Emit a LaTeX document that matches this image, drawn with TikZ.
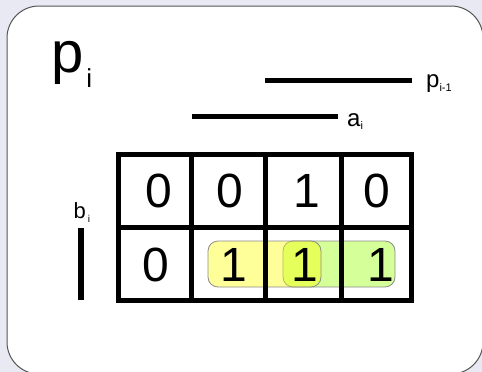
\documentclass[tikz,border=0pt]{standalone}
\usepackage{fontspec}
\setmainfont{Liberation Sans}
\usetikzlibrary{positioning}
\definecolor{bgpanel}{RGB}{233, 233, 243}
\definecolor{framegray}{RGB}{85, 85, 85}
\definecolor{hlyellow}{RGB}{255, 255, 0}
\definecolor{hlgreen}{RGB}{150, 255, 0}
\definecolor{hledge}{RGB}{140, 140, 140}

\begin{document}
\begin{tikzpicture}[x=1pt, y=-1pt,
  digit/.style={font=\fontsize{48}{48}\selectfont, anchor=base, inner sep=0pt},
  varlabel/.style={font=\fontsize{24}{24}\selectfont, anchor=base west, inner sep=0pt},
  bar/.style={line width=5pt},
  group/.style={draw=hledge, line width=0.8pt, rounded corners=10pt, fill opacity=0.4}]

  % Panel
  \fill[bgpanel] (0, 0) rectangle (482, 372);
  \useasboundingbox (0, 0) rectangle (482, 372);
  \draw[framegray, fill=white, line width=1pt, rounded corners=32pt] (7, 6) rectangle (483, 374);

  % Title
  \node[anchor=base west, inner sep=0pt, font=\fontsize{58}{58}\selectfont] (title) at (51, 72)
    {p\kern3pt\raisebox{-15pt}{\fontsize{26}{26}\selectfont i}};

  % Variable bars
  \coordinate (pstart) at (265, 80.5);
  \coordinate (pend) at (412, 80.5);
  \coordinate (astart) at (192, 116.5);
  \coordinate (aend) at (338, 116.5);
  \coordinate (bstart) at (81, 228);
  \coordinate (bend) at (81, 300);
  \draw[bar] (pstart) -- (pend);
  \draw[bar] (astart) -- (aend);
  \draw[line width=5.5pt] (bstart) -- (bend);

  \node[varlabel] (plabel) at (426, 87) {p\raisebox{-4.5pt}{\fontsize{11}{11}\selectfont i-1}};
  \node[varlabel] (alabel) at (347, 126) {a\raisebox{-3pt}{\fontsize{11}{11}\selectfont i}};
  \node[varlabel, font=\fontsize{22}{22}\selectfont] (blabel) at (73.5, 218) {b\kern2pt\raisebox{-4pt}{\fontsize{10}{10}\selectfont i}};

  % Groups
  \draw[group, fill=hlgreen] (283, 241) rectangle (395, 287);
  \draw[group, fill=hlyellow] (208, 241) rectangle (321, 287);

  % Map grid
  \draw[bar] (118.5, 154.5) rectangle (411.5, 300.5);
  \draw[bar] (118.5, 227) -- (411.5, 227);
  \draw[bar] (191.5, 154.5) -- (191.5, 300.5);
  \draw[bar] (265.5, 154.5) -- (265.5, 300.5);
  \draw[bar] (341, 154.5) -- (341, 300.5);

  % Cell values, b = 0
  \node[digit] (c00) at (159, 207) {0};
  \node[digit] (c01) at (230, 207) {0};
  \node[digit] (c11) at (307, 207) {1};
  \node[digit] (c10) at (377, 207) {0};

  % Cell values, b = 1
  \node[digit] (d00) at (156, 281) {0};
  \node[digit] (d01) at (234, 281) {1};
  \node[digit] (d11) at (304.5, 281) {1};
  \node[digit] (d10) at (381, 281) {1};
\end{tikzpicture}
\end{document}
